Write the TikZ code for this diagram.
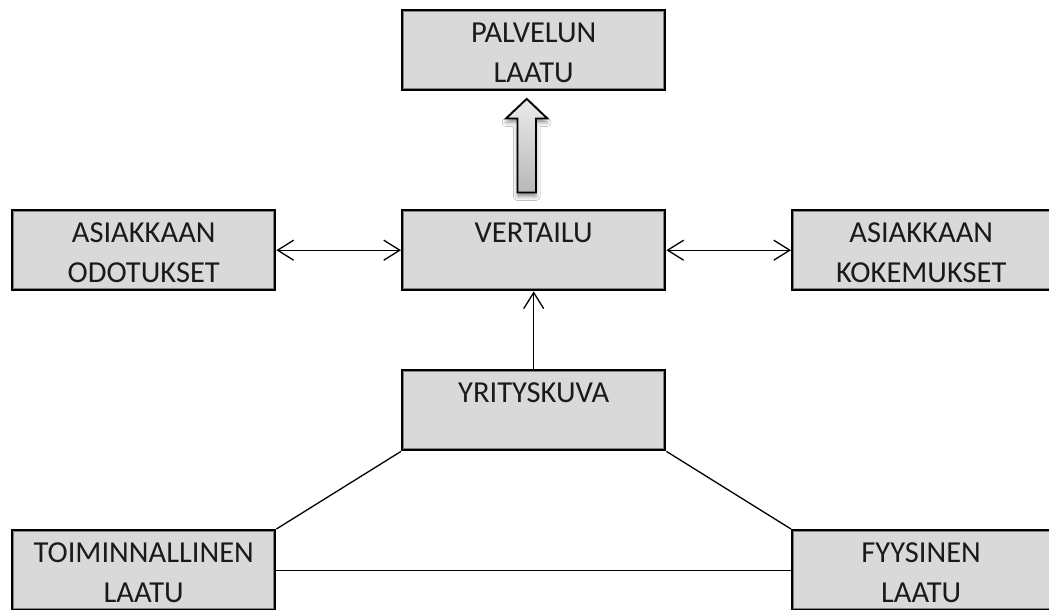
\documentclass[tikz,border=0pt]{standalone}
\usepackage{fontspec}
\setmainfont{Carlito}
\usetikzlibrary{arrows.meta,calc,shadows.blur}
\definecolor{boxfill}{HTML}{D9D9D9}
\definecolor{ink}{HTML}{1A1A1A}
\definecolor{bevel}{HTML}{808080}
\begin{document}
\begin{tikzpicture}[x=1pt,y=-1pt,
  box/.style={draw=black, line width=2.4pt, fill=boxfill,
    minimum width=263pt, minimum height=80pt, inner sep=0pt, anchor=north west,
    path picture={\draw[bevel, line width=1pt]
      ([shift={(1.7pt,-1.7pt)}]path picture bounding box.north west) rectangle
      ([shift={(-1.7pt,1.7pt)}]path picture bounding box.south east);}},
  lbl/.style={anchor=north, inner sep=0pt, align=center, text=ink,
    font=\fontsize{30.5}{40}\selectfont},
  link/.style={line width=1.3pt},
  barb/.tip={Straight Barb[length=16pt,width=20pt]},
  both/.style={link, barb-barb},
  single/.style={link, -barb}]

\clip (0,0) rectangle (1049,610);
\fill[white] (0,0) rectangle (1049,610);

% boxes
\node[box] (pal) at (401,9)   {};
\node[box] (odo) at (11,209)  {};
\node[box] (ver) at (401,209) {};
\node[box] (kok) at (791,209) {};
\node[box] (yri) at (401,369) {};
\node[box] (toi) at (11,529)  {};
\node[box] (fyy) at (791,529) {};

% captions, set from the top edge of each box
\node[lbl] (pal-t) at ([yshift=-13.3pt]pal.north) {PALVELUN\\LAATU};
\node[lbl] (odo-t) at ([yshift=-13.3pt]odo.north) {ASIAKKAAN\\ODOTUKSET};
\node[lbl] (ver-t) at ([yshift=-13.3pt]ver.north) {VERTAILU};
\node[lbl] (kok-t) at ([xshift=-2.5pt,yshift=-13.3pt]kok.north) {ASIAKKAAN\\KOKEMUKSET};
\node[lbl] (yri-t) at ([yshift=-13.3pt]yri.north) {YRITYSKUVA};
\node[lbl] (toi-t) at ([yshift=-13.3pt]toi.north) {TOIMINNALLINEN\\LAATU};
\node[lbl] (fyy-t) at ([xshift=-2.5pt,yshift=-13.3pt]fyy.north) {FYYSINEN\\LAATU};

% connectors
\draw[both] (odo.east) -- (ver.west);
\draw[both] (ver.east) -- (kok.west);
\draw[single] (yri.north) -- (ver.south);
\draw[link] (toi.north east) -- (yri.south west);
\draw[link] (fyy.north west) -- (yri.south east);
\draw[link] (toi.east) -- (fyy.west);

% block arrow from VERTAILU up to PALVELUN LAATU
\coordinate (bb) at ($(ver.north)+(-7,-16.5)$);
\coordinate (bt) at ($(pal.south)+(-7,7.5)$);
\draw[line width=1.8pt, top color=white!92!black, bottom color=white!72!black,
      blur shadow={shadow xshift=0pt, shadow yshift=-4pt, shadow blur radius=4pt, shadow opacity=45}]
  ($(bb)+(-9.3,0)$) -- ($(bt)+(-9.3,19.5)$) -- ($(bt)+(-20.5,19.5)$) -- (bt)
  -- ($(bt)+(20.5,19.5)$) -- ($(bt)+(9.3,19.5)$) -- ($(bb)+(9.3,0)$) -- cycle;
\end{tikzpicture}
\end{document}
